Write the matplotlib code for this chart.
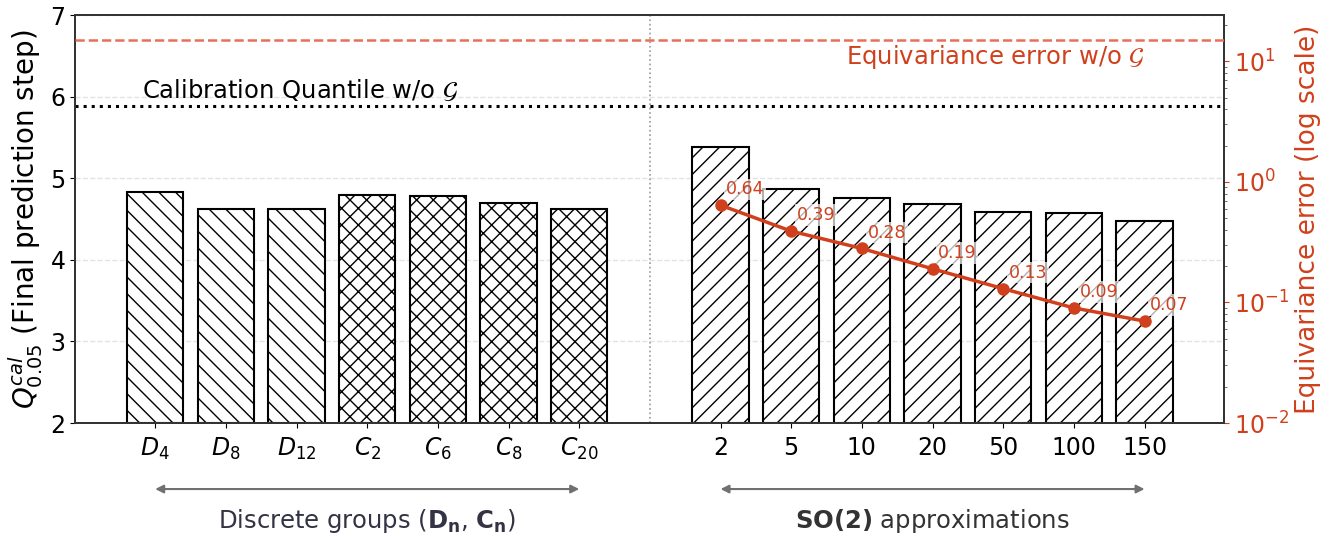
import numpy as np
import matplotlib
matplotlib.use("Agg")
import matplotlib.pyplot as plt
from matplotlib.transforms import blended_transform_factory

# --- data -----------------------------------------------------------------
discrete_labels = [r"$D_4$", r"$D_8$", r"$D_{12}$", r"$C_2$", r"$C_6$", r"$C_8$", r"$C_{20}$"]
discrete_q = [4.83, 4.62, 4.62, 4.80, 4.79, 4.70, 4.62]
discrete_hatch = ["\\\\", "\\\\", "\\\\", "xx", "xx", "xx", "xx"]

so2_labels = ["2", "5", "10", "20", "50", "100", "150"]
so2_q = [5.39, 4.87, 4.76, 4.69, 4.59, 4.57, 4.48]
so2_equiv_err = [0.64, 0.39, 0.28, 0.19, 0.13, 0.09, 0.07]

q_without_group = 5.89
equiv_err_without_group = 15.0

RED = "#d0401c"
RED_LIGHT = "#e8705a"

# --- layout ---------------------------------------------------------------
x_disc = np.arange(len(discrete_labels))
x_so2 = np.arange(len(so2_labels)) + len(discrete_labels) + 1
x_sep = len(discrete_labels)

fig = plt.figure(figsize=(13.38, 5.36), dpi=100)
ax = fig.add_axes([0.0563, 0.2108, 0.9151 - 0.0563, 0.9713 - 0.2108])
ax2 = ax.twinx()

# bars: Q_cal per group
for xi, v, h in zip(x_disc, discrete_q, discrete_hatch):
    ax.bar(xi, v - 2, bottom=2, width=0.8, facecolor="white",
           edgecolor="black", hatch=h, linewidth=1.5, zorder=2)
for xi, v in zip(x_so2, so2_q):
    ax.bar(xi, v - 2, bottom=2, width=0.8, facecolor="white",
           edgecolor="black", hatch="//", linewidth=1.5, zorder=2)

ax.set_ylim(2, 7)
ax.set_xlim(-1.13, x_so2[-1] + 1.13)
ax.set_yticks([2, 3, 4, 5, 6, 7])
ax.yaxis.grid(True, linestyle="--", color="#e3e3e3", linewidth=1.0, zorder=0)
ax.set_axisbelow(True)

ax.axhline(q_without_group, color="black", linestyle=":", linewidth=2.2, zorder=3)
ax.text(-0.19, 6.09, r"Calibration Quantile w/o $\mathcal{G}$", fontsize=17.5,
        va="center", ha="left", color="black")

ax.axvline(x_sep, color="#999999", linestyle=":", linewidth=1.2, zorder=1)

ax.set_xticks(list(x_disc) + list(x_so2))
ax.set_xticklabels(discrete_labels + so2_labels)
ax.tick_params(axis="x", labelsize=17, pad=6)
ax.tick_params(axis="y", labelsize=17)
ax.set_ylabel(r"$Q^{cal}_{0.05}$ (Final prediction step)", fontsize=20)

# equivariance error on log axis
ax2.set_yscale("log")
ax2.set_ylim(0.01, 24)
ax2.plot(x_so2, so2_equiv_err, color=RED, linewidth=2.5, marker="o",
         markersize=8, zorder=5)
for xi, e in zip(x_so2, so2_equiv_err):
    ax2.annotate(f"{e:.2f}", (xi, e), xytext=(4, 5), textcoords="offset points",
                 ha="left", va="bottom", fontsize=12.5, color=RED,
                 bbox=dict(boxstyle="square,pad=0.1", facecolor="white",
                           edgecolor="none", alpha=0.7), zorder=6)
ax2.axhline(equiv_err_without_group, color=RED_LIGHT, linestyle="--",
            linewidth=1.8, zorder=4)
ax2.text(x_so2[-1], 10.8, r"Equivariance error w/o $\mathcal{G}$", fontsize=17.5,
         color=RED, ha="right", va="center")
ax2.set_ylabel("Equivariance error (log scale)", fontsize=19, color=RED)
ax2.tick_params(axis="y", which="major", labelsize=17, labelcolor=RED, color=RED)
ax2.tick_params(axis="y", which="minor", color="#555555")

for a in (ax, ax2):
    for s in a.spines.values():
        s.set_color("#333333")
        s.set_linewidth(1.3)

# group annotations under the axis
trans = blended_transform_factory(ax.transData, ax.transAxes)
ax.annotate("", xy=(x_disc[-1], -0.162), xytext=(x_disc[0], -0.162),
            xycoords=trans, textcoords=trans, annotation_clip=False,
            arrowprops=dict(arrowstyle="<|-|>", color="#707070", lw=1.5,
                            mutation_scale=12, shrinkA=0, shrinkB=0))
ax.annotate("", xy=(x_so2[-1], -0.162), xytext=(x_so2[0], -0.162),
            xycoords=trans, textcoords=trans, annotation_clip=False,
            arrowprops=dict(arrowstyle="<|-|>", color="#707070", lw=1.5,
                            mutation_scale=12, shrinkA=0, shrinkB=0))
ax.text(x_disc.mean(), -0.24, r"Discrete groups ($\mathbf{D_n}$, $\mathbf{C_n}$)",
        transform=trans, ha="center", va="center", fontsize=17.5, color="#333344")
ax.text(x_so2.mean(), -0.24, r"$\mathbf{SO(2)}$ approximations",
        transform=trans, ha="center", va="center", fontsize=17.5, color="#333333")

fig.savefig("out.png", dpi=100)
